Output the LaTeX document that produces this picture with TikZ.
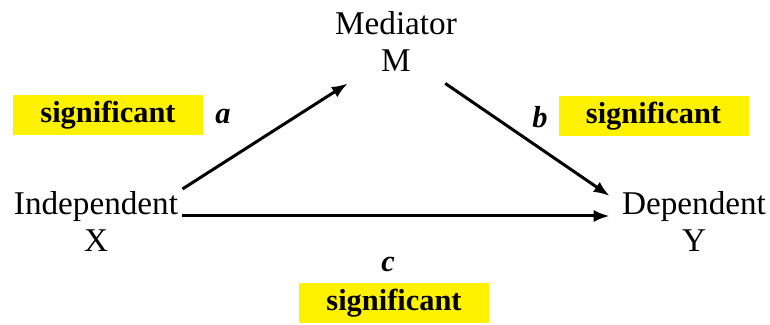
\documentclass[tikz,border=0pt]{standalone}
\usepackage{fontspec}
\setmainfont{Liberation Serif}
\usetikzlibrary{arrows.meta}

\begin{document}
\begin{tikzpicture}[
    x=0.5pt, y=-0.5pt,
    var/.style={align=center, inner sep=0pt, font=\fontsize{16.6}{18.5}\selectfont},
    sig/.style={fill=yellow, minimum width=95pt, minimum height=20pt, inner sep=0pt, font=\fontsize{15.2}{18}\selectfont\bfseries},
    coef/.style={inner sep=0pt, font=\fontsize{15.2}{18}\selectfont\bfseries\itshape},
    arrow/.style={-{Latex[length=8pt,width=6pt]}, line width=1.5pt}
  ]
    \useasboundingbox (0,0) rectangle (770,325);

    % variables
    \node[var] (med) at (396,41) {Mediator\\M};
    \node[var] (indep) at (96,221) {Independent\\X};
    \node[var] (dep) at (694,221) {Dependent\\Y};

    % path coefficients
    \node[coef] (coefA) at (223,117) {a};
    \node[coef] (coefB) at (540,117) {b};
    \node[coef] (coefC) at (388,264) {c};

    % highlighted results
    \node[sig] (sigA) at (108,115) {significant};
    \node[sig] (sigB) at (653.5,116.5) {significant};
    \node[sig] (sigC) at (394,303.5) {significant};

    \draw[arrow] ([shift={(4,-32)}]indep.east) -- ([shift={(13,12)}]med.south west);
    \draw[arrow] ([shift={(-12,12)}]med.south east) -- ([shift={(-12,-25)}]dep.west);
    \draw[arrow] ([shift={(4,-5)}]indep.east) -- ([shift={(-12,-5)}]dep.west);
  \end{tikzpicture}
\end{document}
